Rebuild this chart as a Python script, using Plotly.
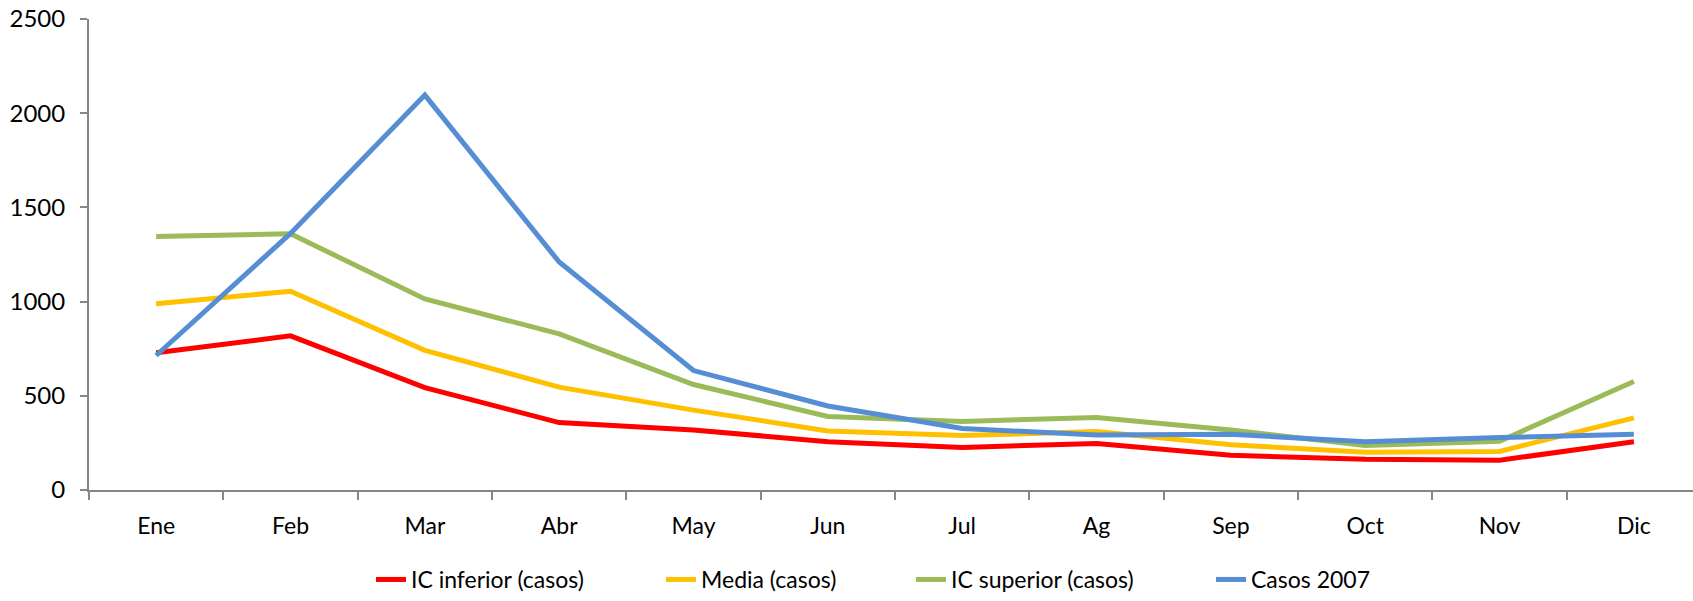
import plotly.graph_objects as go

# Monthly cases: confidence band (lower / upper), mean, and 2007 observations
meses = ["Ene", "Feb", "Mar", "Abr", "May", "Jun", "Jul", "Ag", "Sep", "Oct", "Nov", "Dic"]
ic_inferior = [728, 818, 543, 358, 319, 256, 226, 247, 184, 163, 158, 256]
media = [989, 1055, 741, 546, 424, 313, 289, 310, 240, 200, 205, 383]
ic_superior = [1346, 1360, 1014, 829, 560, 390, 364, 385, 319, 236, 259, 576]
casos_2007 = [714, 1362, 2096, 1210, 634, 446, 327, 292, 296, 256, 278, 296]

series = [
    ("IC inferior (casos)", ic_inferior, "#FF0000"),
    ("Media (casos)", media, "#FFC000"),
    ("IC superior (casos)", ic_superior, "#9BBB59"),
    ("Casos 2007", casos_2007, "#558ED5"),
]

FONT = "Lato"
W, H = 1693, 601
L, T, B = 89, 19, 106
plot_w = W - L
plot_h = H - T - B

# one legend per series so each entry sits where it belongs in the row
legend_left_px = [371, 661, 911, 1211]
legend_y = (495 - 586) / plot_h

fig = go.Figure()
for i, (name, vals, color) in enumerate(series):
    fig.add_trace(go.Scatter(
        x=meses, y=vals, name=name, mode="lines",
        line=dict(color=color, width=5),
        legend="legend" if i == 0 else f"legend{i + 1}",
    ))

legend_common = dict(
    orientation="h", xanchor="left", yanchor="middle", y=legend_y,
    font=dict(family=FONT, size=23, color="#000000"),
    bgcolor="rgba(0,0,0,0)", borderwidth=0, itemwidth=30,
)
legends = {}
for i, px in enumerate(legend_left_px):
    key = "legend" if i == 0 else f"legend{i + 1}"
    legends[key] = dict(legend_common, x=(px - L) / plot_w)

fig.update_layout(
    width=W, height=H,
    margin=dict(l=L, r=0, t=T, b=B, pad=0),
    paper_bgcolor="white", plot_bgcolor="white",
    showlegend=True,
    font=dict(family=FONT, size=23, color="#000000"),
    xaxis=dict(
        type="category", range=[-0.5, 11.44],
        tickson="boundaries", ticks="outside", ticklen=8, tickwidth=1.5,
        tickcolor="#868686", showline=True, linecolor="#868686", linewidth=2,
        showgrid=False, zeroline=False, ticklabelstandoff=14,
        tickfont=dict(family=FONT, size=23, color="#000000"),
    ),
    yaxis=dict(
        range=[0, 2500], tickmode="linear", tick0=0, dtick=500,
        ticks="outside", ticklen=7, tickwidth=1.5, tickcolor="#868686",
        showline=True, linecolor="#868686", linewidth=2,
        showgrid=False, zeroline=False, ticklabelstandoff=10,
        tickfont=dict(family=FONT, size=24, color="#000000"),
    ),
    **legends,
)

fig.write_html("out.html")
